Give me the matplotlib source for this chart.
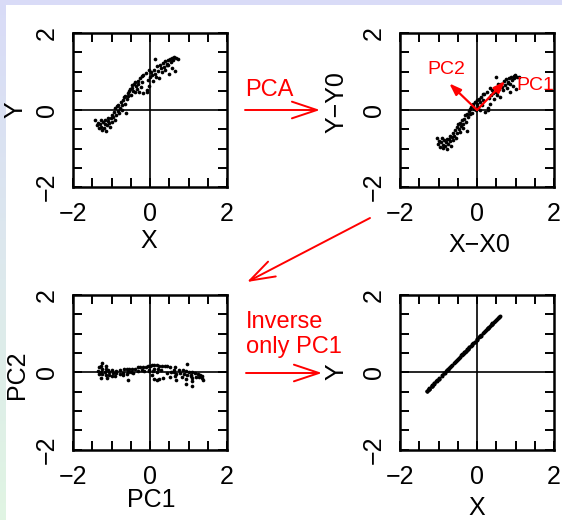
import numpy as np
import matplotlib
matplotlib.use('Agg')
import matplotlib.pyplot as plt
from matplotlib.patches import FancyArrowPatch, Rectangle

plt.rcParams['font.family'] = ['Liberation Sans', 'DejaVu Sans']

# ---------------- data ----------------
x_data = [-1.42, -1.38, -1.35, -1.32, -1.30, -1.28, -1.26, -1.24, -1.22, -1.20,
          -1.18, -1.16, -1.14, -1.12, -1.10, -1.08, -1.06, -1.04, -1.02, -1.00,
          -0.98, -0.96, -0.94, -0.92, -0.90, -0.88, -0.86, -0.84, -0.82, -0.80,
          -0.78, -0.76, -0.74, -0.72, -0.70, -0.68, -0.66, -0.64, -0.62, -0.60,
          -0.58, -0.56, -0.54, -0.52, -0.50, -0.48, -0.46, -0.44, -0.42, -0.40,
          -0.38, -0.36, -0.34, -0.32, -0.30, -0.28, -0.26, -0.24, -0.22, -0.20,
          -0.18, -0.17, -0.09, -0.10, -0.08, -0.06, -0.03, -0.02, 0.00, 0.02,
          0.05, 0.08, 0.10, 0.13, 0.15, 0.18, 0.20, 0.23, 0.25, 0.28,
          0.30, 0.33, 0.36, 0.38, 0.40, 0.43, 0.46, 0.48, 0.50, 0.52,
          0.55, 0.58, 0.60, 0.62, 0.65, 0.68, 0.72, 0.13, 0.56, 0.43]
y_data = [-0.26, -0.40, -0.33, -0.48, -0.36, -0.25, -0.43, -0.52, -0.30, -0.47,
          -0.36, -0.27, -0.55, -0.40, -0.29, -0.20, -0.34, -0.45, -0.22, -0.13,
          -0.30, -0.19, -0.05, -0.25, 0.04, -0.13, 0.10, -0.03, 0.14, -0.09,
          0.06, 0.20, 0.01, 0.12, 0.25, 0.34, 0.15, 0.37, -0.07, 0.28,
          0.44, 0.36, 0.50, 0.55, 0.40, 0.58, 0.64, 0.50, 0.68, 0.48,
          0.72, 0.62, 0.54, 0.76, 0.68, 0.46, 0.82, 0.60, 0.88, 0.72,
          0.90, 0.43, 0.47, 0.95, 0.52, 0.78, 1.04, 0.62, 0.86, 0.98,
          0.92, 0.76, 1.05, 0.94, 0.86, 1.14, 1.02, 0.82, 1.16, 1.08,
          0.98, 1.22, 1.12, 1.27, 1.04, 1.19, 1.30, 1.16, 0.94, 1.33,
          1.24, 1.36, 1.30, 1.38, 1.02, 1.34, 1.32, 1.32, 1.10, 1.17]

pc1_tip = [0.73, 0.75]     # PC1 arrow tip in the centred panel
pc2_tip = [-0.72, 0.69]    # PC2 arrow tip in the centred panel

tick_values = [-2, -1.5, -1, -0.5, 0, 0.5, 1, 1.5, 2]
tick_labels = ['\u22122', '', '', '', '0', '', '', '', '2']

xlabels = ['X', 'X\u2212X0', 'PC1', 'X']
ylabels = ['Y', 'Y\u2212Y0', 'PC2', 'Y']

# ---------------- derived panels (centre, project on PCs, inverse) ----------------
x = np.array(x_data)
y = np.array(y_data)
x0, y0 = x.mean(), y.mean()
xc, yc = x - x0, y - y0
u1 = np.array(pc1_tip) / np.hypot(*pc1_tip)
u2 = np.array(pc2_tip) / np.hypot(*pc2_tip)
s1 = xc * u1[0] + yc * u1[1]
s2 = xc * u2[0] + yc * u2[1]
x4 = x0 + s1 * u1[0]
y4 = y0 + s1 * u1[1]

panels = [(x, y), (xc, yc), (s1, s2), (x4, y4)]
dot_sizes = [7, 7, 7, 8]

# ---------------- figure ----------------
W, H = 562, 520
fig = plt.figure(figsize=(W / 100, H / 100), dpi=100)
fig.patch.set_facecolor('white')


def fx(px):
    return px / W


def fy(py):
    return 1 - py / H


# background strips
bg = fig.add_axes([0, 0, 1, 1], zorder=-10)
bg.set_xlim(0, 1)
bg.set_ylim(0, 1)
bg.axis('off')
top_c = np.array([0.85, 0.86, 0.97])
bot_c = np.array([0.88, 0.96, 0.89])
t = np.linspace(0, 1, 256)[:, None]
grad = (top_c[None, :] * (1 - t) + bot_c[None, :] * t)[:, None, :]
bg.imshow(grad, extent=[0, fx(5), 0, 1], aspect='auto', origin='upper')
bg.add_patch(Rectangle((0, fy(5)), 1, 5 / H, color=top_c, lw=0))

boxes = [(73, 33, 227, 187), (400, 33, 554, 187), (73, 295, 227, 449.5), (400, 295, 554, 449.5)]
axes = []
for (l, tp, r, b), (px_, py_), ds in zip(boxes, panels, dot_sizes):
    ax = fig.add_axes([fx(l), fy(b), (r - l) / W, (b - tp) / H])
    ax.set_xlim(-2, 2)
    ax.set_ylim(-2, 2)
    ax.axhline(0, color='black', lw=1.2, zorder=1)
    ax.axvline(0, color='black', lw=1.2, zorder=1)
    ax.scatter(px_, py_, s=ds, color='black', linewidths=0, zorder=3)
    ax.set_xticks(tick_values)
    ax.set_yticks(tick_values)
    ax.set_xticklabels(tick_labels)
    ax.set_yticklabels(tick_labels, rotation=90, va='center')
    ax.tick_params(direction='in', length=6.5, width=1.4, top=True, right=True,
                   labelsize=18, colors='black')
    ax.tick_params(axis='x', pad=11)
    ax.tick_params(axis='y', pad=10)
    for sp in ax.spines.values():
        sp.set_linewidth(1.8)
    ax.set_facecolor('none')
    axes.append(ax)

# axis labels
lab_pos_x = [(149, 241), (479, 245), (151, 500), (477, 508)]
lab_pos_y = [(15, 110), (336, 102), (17, 375), (336, 372)]
for txt, (px_, py_) in zip(xlabels, lab_pos_x):
    fig.text(fx(px_), fy(py_), txt, fontsize=18, ha='center', va='center')
for txt, (px_, py_) in zip(ylabels, lab_pos_y):
    fig.text(fx(px_), fy(py_), txt, fontsize=18, ha='center', va='center', rotation=90)

red = '#ff0000'

# PC arrows in the centred panel
for tip in (pc1_tip, pc2_tip):
    axes[1].annotate('', xy=tip, xytext=(0, 0),
                     arrowprops=dict(arrowstyle='-|>,head_length=0.7,head_width=0.25',
                                     color=red, lw=1.6, shrinkA=0, shrinkB=0,
                                     mutation_scale=10), zorder=4)
fig.text(fx(446), fy(70), 'PC2', color=red, fontsize=14, ha='center', va='center')
fig.text(fx(535), fy(85), 'PC1', color=red, fontsize=14, ha='center', va='center')


# red workflow arrows
def flow_arrow(p0, p1):
    a = FancyArrowPatch((fx(p0[0]), fy(p0[1])), (fx(p1[0]), fy(p1[1])),
                        transform=fig.transFigure,
                        arrowstyle='->,head_length=1.8,head_width=0.6',
                        mutation_scale=10, color=red, lw=1.4,
                        shrinkA=0, shrinkB=0)
    fig.add_artist(a)


flow_arrow((245, 110), (320, 110))
flow_arrow((370, 218), (247, 282))
flow_arrow((246, 373), (322, 373))

fig.text(fx(245), fy(96), 'PCA', color=red, fontsize=17, ha='left', va='baseline')
fig.text(fx(246), fy(328), 'Inverse', color=red, fontsize=17, ha='left', va='baseline')
fig.text(fx(246), fy(353), 'only PC1', color=red, fontsize=17, ha='left', va='baseline')

fig.savefig('out.png', dpi=100)
